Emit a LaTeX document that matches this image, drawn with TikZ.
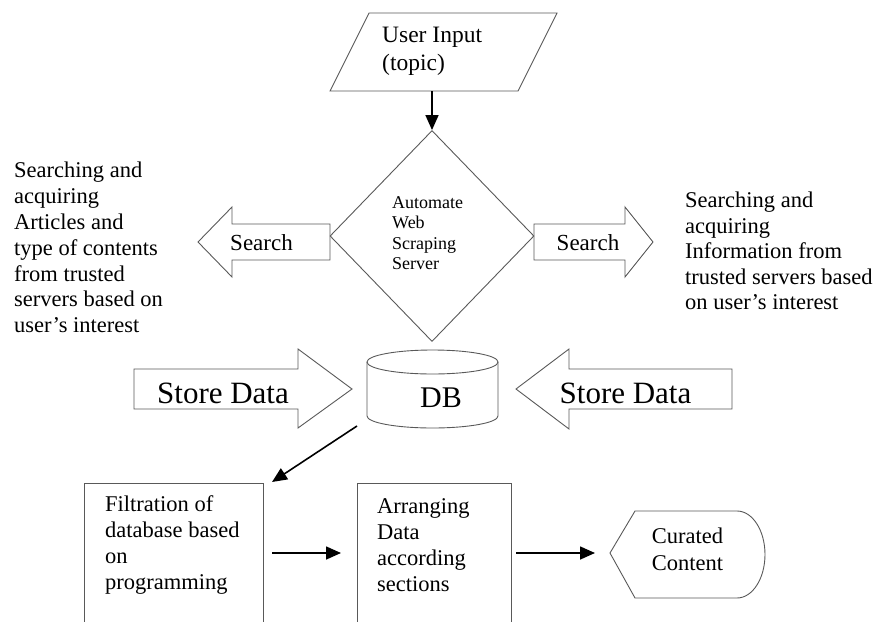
\documentclass[tikz,border=0pt]{standalone}
\usepackage{fontspec}
\setmainfont{Liberation Serif}
\usetikzlibrary{arrows.meta,shapes.geometric}
\begin{document}
\begin{tikzpicture}[x=1pt,y=-1pt,
  outl/.style={draw=black!65, line width=0.9pt, line join=miter},
  arr/.style={draw=black, line width=1.6pt, -{Triangle[length=15pt,width=13pt]}},
  txt/.style={inner sep=0pt, align=left, anchor=west},
  body/.style={font=\fontsize{22.5}{26}\selectfont},
]
\useasboundingbox (0,0) rectangle (875,621);
\clip (0,0) rectangle (875,621);

% user input (parallelogram)
\draw[outl] (369,13) -- (557,13) -- (518,91) -- (330,91) -- cycle;
\node[txt, font=\fontsize{23.5}{28}\selectfont] (inputtxt) at (382,51) {User Input\\(topic)};
\coordinate (inbot) at (432,91);

% server diamond
\node[diamond, outl, minimum width=204pt, minimum height=211pt, inner sep=0pt] (server) at (432,236) {};
\node[txt, font=\fontsize{18}{20.5}\selectfont] (servertxt) at (392,233) {Automate\\Web\\Scraping\\Server};

\draw[arr] (inbot) -- (server.north);

% search arrows
\draw[outl] (330,224) -- (232,224) -- (232,207) -- (198,242) -- (232,277) -- (232,260) -- (330,260) -- cycle;
\node[inner sep=0pt, font=\fontsize{23}{26}\selectfont] (searchL) at (261.5,243) {Search};
\draw[outl] (534,224) -- (625,224) -- (625,207) -- (653,242) -- (625,277) -- (625,260) -- (534,260) -- cycle;
\node[inner sep=0pt, font=\fontsize{23}{26}\selectfont] (searchR) at (588,243) {Search};

% side texts
\node[txt, body, font=\fontsize{22.5}{25.8}\selectfont] (lefttxt) at (14,247.5) {Searching and\\acquiring\\Articles and\\type of contents\\from trusted\\servers based on\\user’s interest};
\node[txt, font=\fontsize{22.5}{25.5}\selectfont] (righttxt) at (685,251) {Searching and\\acquiring\\Information from\\trusted servers based\\on user’s interest};

% store data arrows
\draw[outl] (134,369) -- (298,369) -- (298,349) -- (352,389) -- (298,428) -- (298,409) -- (134,409) -- cycle;
\node[inner sep=0pt, font=\fontsize{31}{34}\selectfont] (storeL) at (223,393) {Store Data};
\draw[outl] (732,369) -- (569,369) -- (569,349) -- (516,389) -- (569,429) -- (569,409) -- (732,409) -- cycle;
\node[inner sep=0pt, font=\fontsize{31}{34}\selectfont] (storeR) at (625.5,393) {Store Data};

% DB cylinder
\draw[outl] (367,362) -- (367,416) arc[start angle=180, end angle=360, x radius=65.5pt, y radius=12pt] -- (498,362);
\draw[outl] (432.5,362) ellipse [x radius=65.5pt, y radius=12pt];
\node[inner sep=0pt, font=\fontsize{30}{33}\selectfont] (db) at (441,398) {DB};
\coordinate (dbout) at (357,426);

% bottom boxes
\node[outl, minimum width=179pt, minimum height=170pt, anchor=north west, inner sep=0pt] (filt) at (84,483) {};
\node[txt, body] (filttxt) at (105,545) {Filtration of\\database based\\on\\programming};
\node[outl, minimum width=154pt, minimum height=170pt, anchor=north west, inner sep=0pt] (arrange) at (357,483) {};
\node[txt, body] (arrtxt) at (377,545.5) {Arranging\\Data\\according\\sections};
\coordinate (filtin) at (272,482);
\draw[arr] (dbout) -- (filtin);

\coordinate (a1s) at (272,553);
\coordinate (a1e) at (341,553);
\draw[arr] (a1s) -- (a1e);

% curated content (display shape)
\draw[outl] (610,553) -- (635,511) -- (737,511) arc[start angle=90, end angle=-90, x radius=28pt, y radius=43.5pt] -- (635,598) -- cycle;
\node[inner sep=0pt, align=center, font=\fontsize{22.5}{27}\selectfont] (curated) at (687.5,549.5) {Curated\\Content};
\coordinate (a2s) at (516,553);
\coordinate (a2e) at (595,553);
\draw[arr] (a2s) -- (a2e);
\end{tikzpicture}
\end{document}
